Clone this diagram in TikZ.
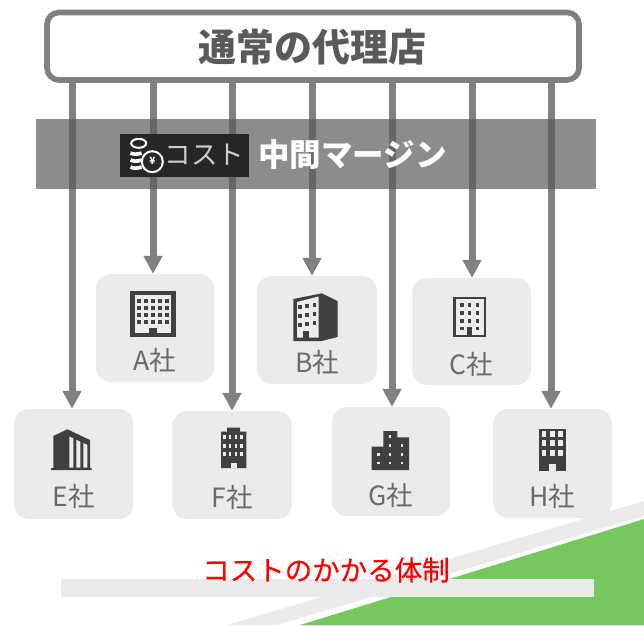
\documentclass[tikz,border=0pt]{standalone}
\usepackage{fontspec}
\setmainfont{Noto Sans CJK JP}
\newfontfamily\heavyfont[FakeBold=0.35]{Noto Sans CJK JP}
\usetikzlibrary{arrows.meta}

\definecolor{linegray}{HTML}{808080}
\definecolor{bandgray}{HTML}{5B5B5B}
\definecolor{boxgray}{HTML}{EBEBEB}
\definecolor{icondark}{HTML}{404040}
\definecolor{textgray}{HTML}{6A6A6A}
\definecolor{leafgreen}{HTML}{76C85E}

\tikzset{
  compbox/.style={fill=boxgray, inner sep=0pt, rounded corners=15pt},
  complabel/.style={text=textgray, font=\fontsize{26.5}{26.5}\selectfont, inner sep=0pt},
  feedline/.style={draw=linegray, fill=linegray, line width=7pt, -{Triangle[length=18pt,width=18pt]}},
}

\begin{document}
\begin{tikzpicture}[x=1pt, y=-1pt]
  \useasboundingbox (0,0) rectangle (644,625);

  % background
  \fill[boxgray] (227,625) -- (644,501) -- (644,516) -- (277,625) -- cycle;
  \fill[leafgreen] (300,625) -- (644,519) -- (644,625) -- cycle;
  \fill[boxgray] (61,579) rectangle (594,597);

  % company boxes
  \node[compbox, minimum width=118pt, minimum height=108pt] (compA) at (155,328) {};
  \node[compbox, minimum width=120pt, minimum height=108pt] (compB) at (317,330) {};
  \node[compbox, minimum width=119pt, minimum height=107pt] (compC) at (471.5,331.5) {};
  \node[compbox, minimum width=119.5pt, minimum height=110pt] (compE) at (73.7,464) {};
  \node[compbox, minimum width=119.5pt, minimum height=108pt] (compF) at (232.2,465) {};
  \node[compbox, minimum width=118.5pt, minimum height=109pt] (compG) at (391.2,461.5) {};
  \node[compbox, minimum width=119pt, minimum height=109pt] (compH) at (552.5,463.5) {};

  % arrows
  \coordinate (outE) at (72,81);
  \coordinate (outA) at (153,81);
  \coordinate (outF) at (232,81);
  \coordinate (outB) at (312,81);
  \coordinate (outG) at (392,81);
  \coordinate (outC) at (472,81);
  \coordinate (outH) at (551,81);
  \draw[feedline] (outE) -- (outE |- compE.north);
  \draw[feedline] (outA) -- (outA |- compA.north);
  \draw[feedline] (outF) -- (outF |- compF.north);
  \draw[feedline] (outB) -- (outB |- compB.north);
  \draw[feedline] (outG) -- (outG |- compG.north);
  \draw[feedline] (outC) -- (outC |- compC.north);
  \draw[feedline] (outH) -- (outH |- compH.north);

  % margin band
  \fill[bandgray, opacity=0.7] (36,119) rectangle (596,189);

  % dealer
  \node[draw=linegray, fill=white, line width=5.6pt, rounded corners=12pt, minimum width=532pt, minimum height=67.5pt, inner sep=0pt] (dealer) at (313,46.2) {};
  \node[text=textgray!85!black, font=\fontsize{38}{38}\bfseries\selectfont, inner sep=0pt] (dealertext) at (312,47.5) {通常の代理店};

  % cost tag
  \node[fill=black!85, minimum width=129pt, minimum height=43pt, inner sep=0pt] (costtag) at (184.5,155.5) {};
  \node[text=black!20, font=\fontsize{26.5}{26.5}\selectfont, inner sep=0pt] (costtext) at (204.5,155) {コスト};
  \node[text=white, font=\fontsize{31.5}{31.5}\bfseries\selectfont, inner sep=0pt] (margintext) at (352.5,155) {中間マージン};

  % coins
  \draw[white, line width=2pt] (138.7,143.3) ellipse (7.5 and 4.5);
  \foreach \y in {153,160,167}
    \draw[white, line width=3.6pt] (130.5,\y) .. controls (133,\y+1.5) and (138,\y+1.5) .. (141.5,\y);
  \draw[white, line width=2pt, fill=black!85] (152.3,161.7) circle (10.5);
  \node[text=white, font=\fontsize{10}{10}\bfseries\selectfont, inner sep=0pt] (yen) at (152.3,161.2) {¥};

  % icon A
  \fill[icondark] (130,291) rectangle (175.7,336.7);
  \fill[white!90!icondark] (134.7,295) rectangle (171,332.7);
  \foreach \x in {139,146,153,160,167}
    \foreach \y in {300.7,308,315,322}
      \fill[icondark] (\x-1.8,\y-1.8) rectangle (\x+1.8,\y+1.8);
  \fill[icondark] (149,327.5) rectangle (156.7,333);

  % icon B
  \fill[icondark] (293.3,299) -- (321.7,293.3) -- (337.5,301) -- (337.5,337) -- (321.7,341) -- (293.3,341) -- cycle;
  \fill[white!90!icondark] (297,302) -- (318.5,296.5) -- (318.5,337.5) -- (297,337.5) -- cycle;
  \foreach \x/\d in {299.7/0,306.7/1,314.3/2}
    \foreach \y in {307,316,325}
      \fill[icondark] (\x-1.8,\y-2.2-\d) rectangle (\x+1.8,\y+2.2-\d);
  \fill[icondark] (303.3,330.7) rectangle (309.3,338);

  % icon C
  \fill[icondark] (453.3,296.7) rectangle (486,336.7);
  \fill[white!90!icondark] (455.5,298.9) rectangle (483.8,334.5);
  \foreach \x in {461.7,469.3,477.3}
    \foreach \y in {305,313,321}
      \fill[icondark] (\x-1.8,\y-1.8) rectangle (\x+1.8,\y+1.8);
  \fill[icondark] (459.9,326.5) rectangle (463.5,330);
  \fill[icondark] (475.5,326.5) rectangle (479.1,330);
  \fill[icondark] (466.8,327) rectangle (472,336);

  % icon E
  \fill[icondark] (53.3,436) -- (67.3,429.3) -- (90,440) -- (90,468) -- (91.7,468) -- (91.7,470) -- (51,470) -- (51,468) -- (53.3,468) -- cycle;
  \fill[white!90!icondark] (69.3,436.5) -- (73.3,438.3) -- (73.3,467.7) -- (69.3,467.7) -- cycle;
  \fill[white!90!icondark] (76.3,439.8) -- (80.3,441.6) -- (80.3,467.7) -- (76.3,467.7) -- cycle;
  \fill[white!90!icondark] (83.3,443) -- (87.3,444.8) -- (87.3,467.7) -- (83.3,467.7) -- cycle;

  % icon F
  \fill[icondark] (221,431.7) -- (227,431.7) -- (227,427.7) -- (240,427.7) -- (240,431.7) -- (246.4,431.7) -- (246.4,468) -- (221,468) -- cycle;
  \foreach \x in {224.6,230,236,241.5}
    \foreach \y in {437.3,445.7,454}
      \fill[white!90!icondark] (\x-1.2,\y-2) rectangle (\x+1.2,\y+2);
  \fill[boxgray] (230.5,468) -- (230.5,463) -- (236.5,463) -- (236.5,468) -- cycle;

  % icon G
  \fill[icondark] (371.7,446.7) -- (383.3,446.7) -- (383.3,431) -- (397.3,431) -- (397.3,437.3) -- (409,437.3) -- (409,470) -- (371.7,470) -- cycle;
  \foreach \x/\y in {390/436.7,390/445.7,402/445.7,378.3/454.3,390/454.3,402/454.3,378.3/463,390/463,402/463}
    \fill[white!90!icondark] (\x-1.4,\y-1.4) rectangle (\x+1.4,\y+1.4);

  % icon H
  \fill[icondark] (539,429) rectangle (565.5,470.7);
  \foreach \x in {544,552.4,560.6}
    \foreach \y in {434,443.3,452.7}
      \fill[white!90!icondark] (\x-2.4,\y-3) rectangle (\x+2.4,\y+3);
  \fill[boxgray] (548.6,464) rectangle (556.2,470.7);

  % labels
  \node[complabel] (labelA) at (155,360) {A社};
  \node[complabel] (labelB) at (317,362) {B社};
  \node[complabel] (labelC) at (471,364) {C社};
  \node[complabel] (labelE) at (74,496) {E社};
  \node[complabel] (labelF) at (232.5,497) {F社};
  \node[complabel] (labelG) at (391,495) {G社};
  \node[complabel] (labelH) at (552,496) {H社};

  \node[text=red, font=\heavyfont\fontsize{27.5}{27.5}\selectfont, inner sep=0pt] (summary) at (326,570) {コストのかかる体制};
\end{tikzpicture}
\end{document}
